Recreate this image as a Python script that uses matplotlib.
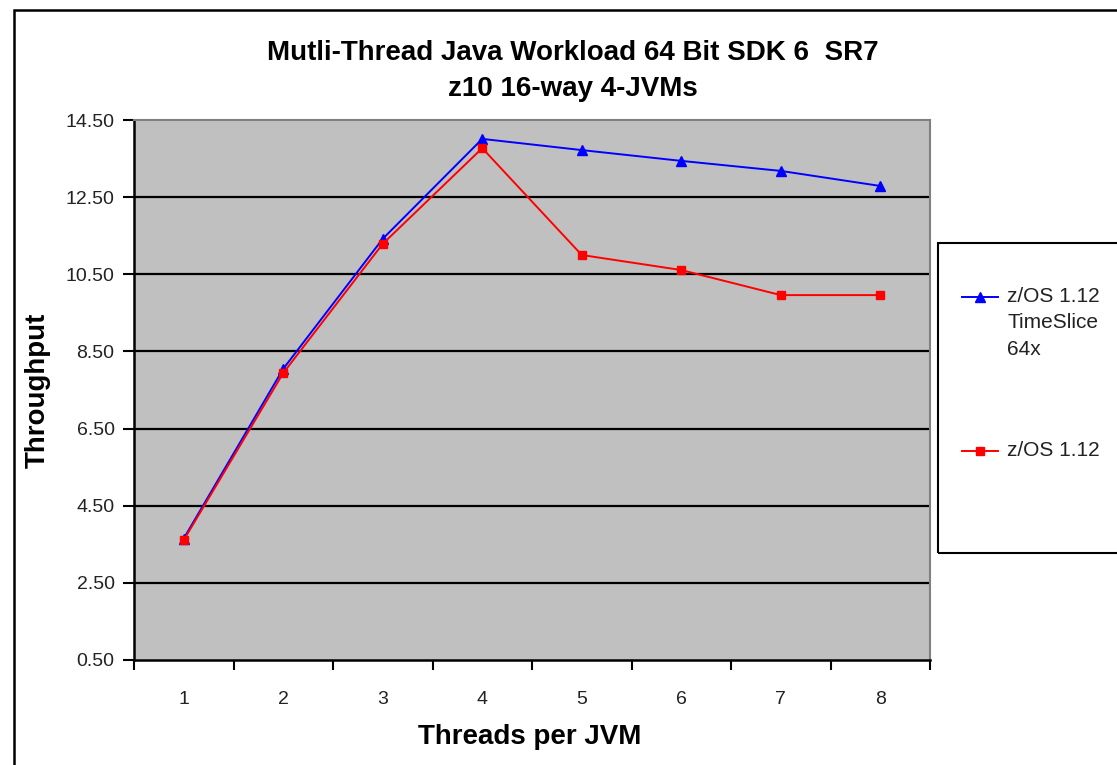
import matplotlib
matplotlib.use("Agg")
import matplotlib.pyplot as plt
from matplotlib.lines import Line2D
from matplotlib.patches import Rectangle

threads = [1, 2, 3, 4, 5, 6, 7, 8]
timeslice = [3.65, 8.05, 11.42, 14.01, 13.72, 13.44, 13.18, 12.79]
zos = [3.61, 7.94, 11.29, 13.77, 11.00, 10.61, 9.96, 9.96]
series_labels = ["z/OS 1.12\nTimeSlice\n64x", "z/OS 1.12"]
yticks = [0.5, 2.5, 4.5, 6.5, 8.5, 10.5, 12.5, 14.5]
title = "Mutli-Thread Java Workload 64 Bit SDK 6  SR7\nz10 16-way 4-JVMs"

plt.rcParams['font.family'] = ['Liberation Sans', 'DejaVu Sans']

W, H = 1117, 765
fig = plt.figure(figsize=(W / 100, H / 100), dpi=100)

def fx(px):
    return px / W

def fy(py):
    return 1 - py / H

# outer chart border
fig.add_artist(Rectangle((fx(14), fy(800)), fx(1200), fy(10) - fy(800),
                         transform=fig.transFigure, fill=False,
                         edgecolor='black', linewidth=1.8))

ax = fig.add_axes([fx(134), fy(660), fx(930) - fx(134), fy(120) - fy(660)])
ax.set_facecolor('#C0C0C0')

ax.plot(threads, timeslice, color='#0000FF', linewidth=1.4, marker='^',
        markersize=7, markerfacecolor='#0000FF', markeredgecolor='#0000FF', zorder=4)
ax.plot(threads, zos, color='#FF0000', linewidth=1.4, marker='s',
        markersize=6, markerfacecolor='#FF0000', markeredgecolor='#FF0000', zorder=5)

ax.set_xlim(0.5, 8.5)
ax.set_ylim(0.5, 14.5)
ax.set_yticks(yticks)
ax.set_yticklabels([f"{v:.2f}" for v in yticks], fontsize=14, color='#222222')
ax.set_xticks(threads)
ax.set_xticklabels([str(t) for t in threads], fontsize=14, color='#222222')
ax.set_xticks([t + 0.5 for t in [0] + threads], minor=True)
ax.tick_params(axis='x', which='major', length=0, pad=22)
ax.tick_params(axis='x', which='minor', length=7, width=1.5, direction='out', color='black')
ax.tick_params(axis='y', which='major', length=8, width=1.5, direction='out', color='black', pad=6)

for v in yticks[1:-1]:
    ax.axhline(v, color='black', linewidth=1.6, zorder=1)

for s in ['top', 'right']:
    ax.spines[s].set_color('#808080')
    ax.spines[s].set_linewidth(1.5)
for s in ['left', 'bottom']:
    ax.spines[s].set_color('black')
    ax.spines[s].set_linewidth(1.8)

fig.text(fx(573), fy(71), title, ha='center', va='center', fontsize=20,
         fontweight='bold', family=['Liberation Sans Narrow', 'Liberation Sans', 'DejaVu Sans'],
         linespacing=1.45)

fig.text(fx(530), fy(737), "Threads per JVM", ha='center', va='center',
         fontsize=20, fontweight='bold')
fig.text(fx(38), fy(390), "Throughput", ha='center', va='center',
         fontsize=20, fontweight='bold', rotation=90)

# legend box
fig.add_artist(Rectangle((fx(938), fy(553)), fx(300), fy(243) - fy(553),
                         transform=fig.transFigure, fill=False,
                         edgecolor='black', linewidth=1.5))
leg_items = [('#0000FF', '^', 7, 297), ('#FF0000', 's', 6, 451)]
for (col, mk, ms, ypx), lab in zip(leg_items, series_labels):
    fig.add_artist(Line2D([fx(962), fx(998)], [fy(ypx), fy(ypx)], color=col,
                          linewidth=1.4, transform=fig.transFigure))
    fig.add_artist(Line2D([fx(980)], [fy(ypx)], color=col, marker=mk, markersize=ms,
                          transform=fig.transFigure))
    fig.text(fx(1007), fy(ypx - 10), lab, ha='left', va='top', fontsize=15,
             color='#222222', linespacing=1.5)

fig.savefig("out.png", dpi=100)
